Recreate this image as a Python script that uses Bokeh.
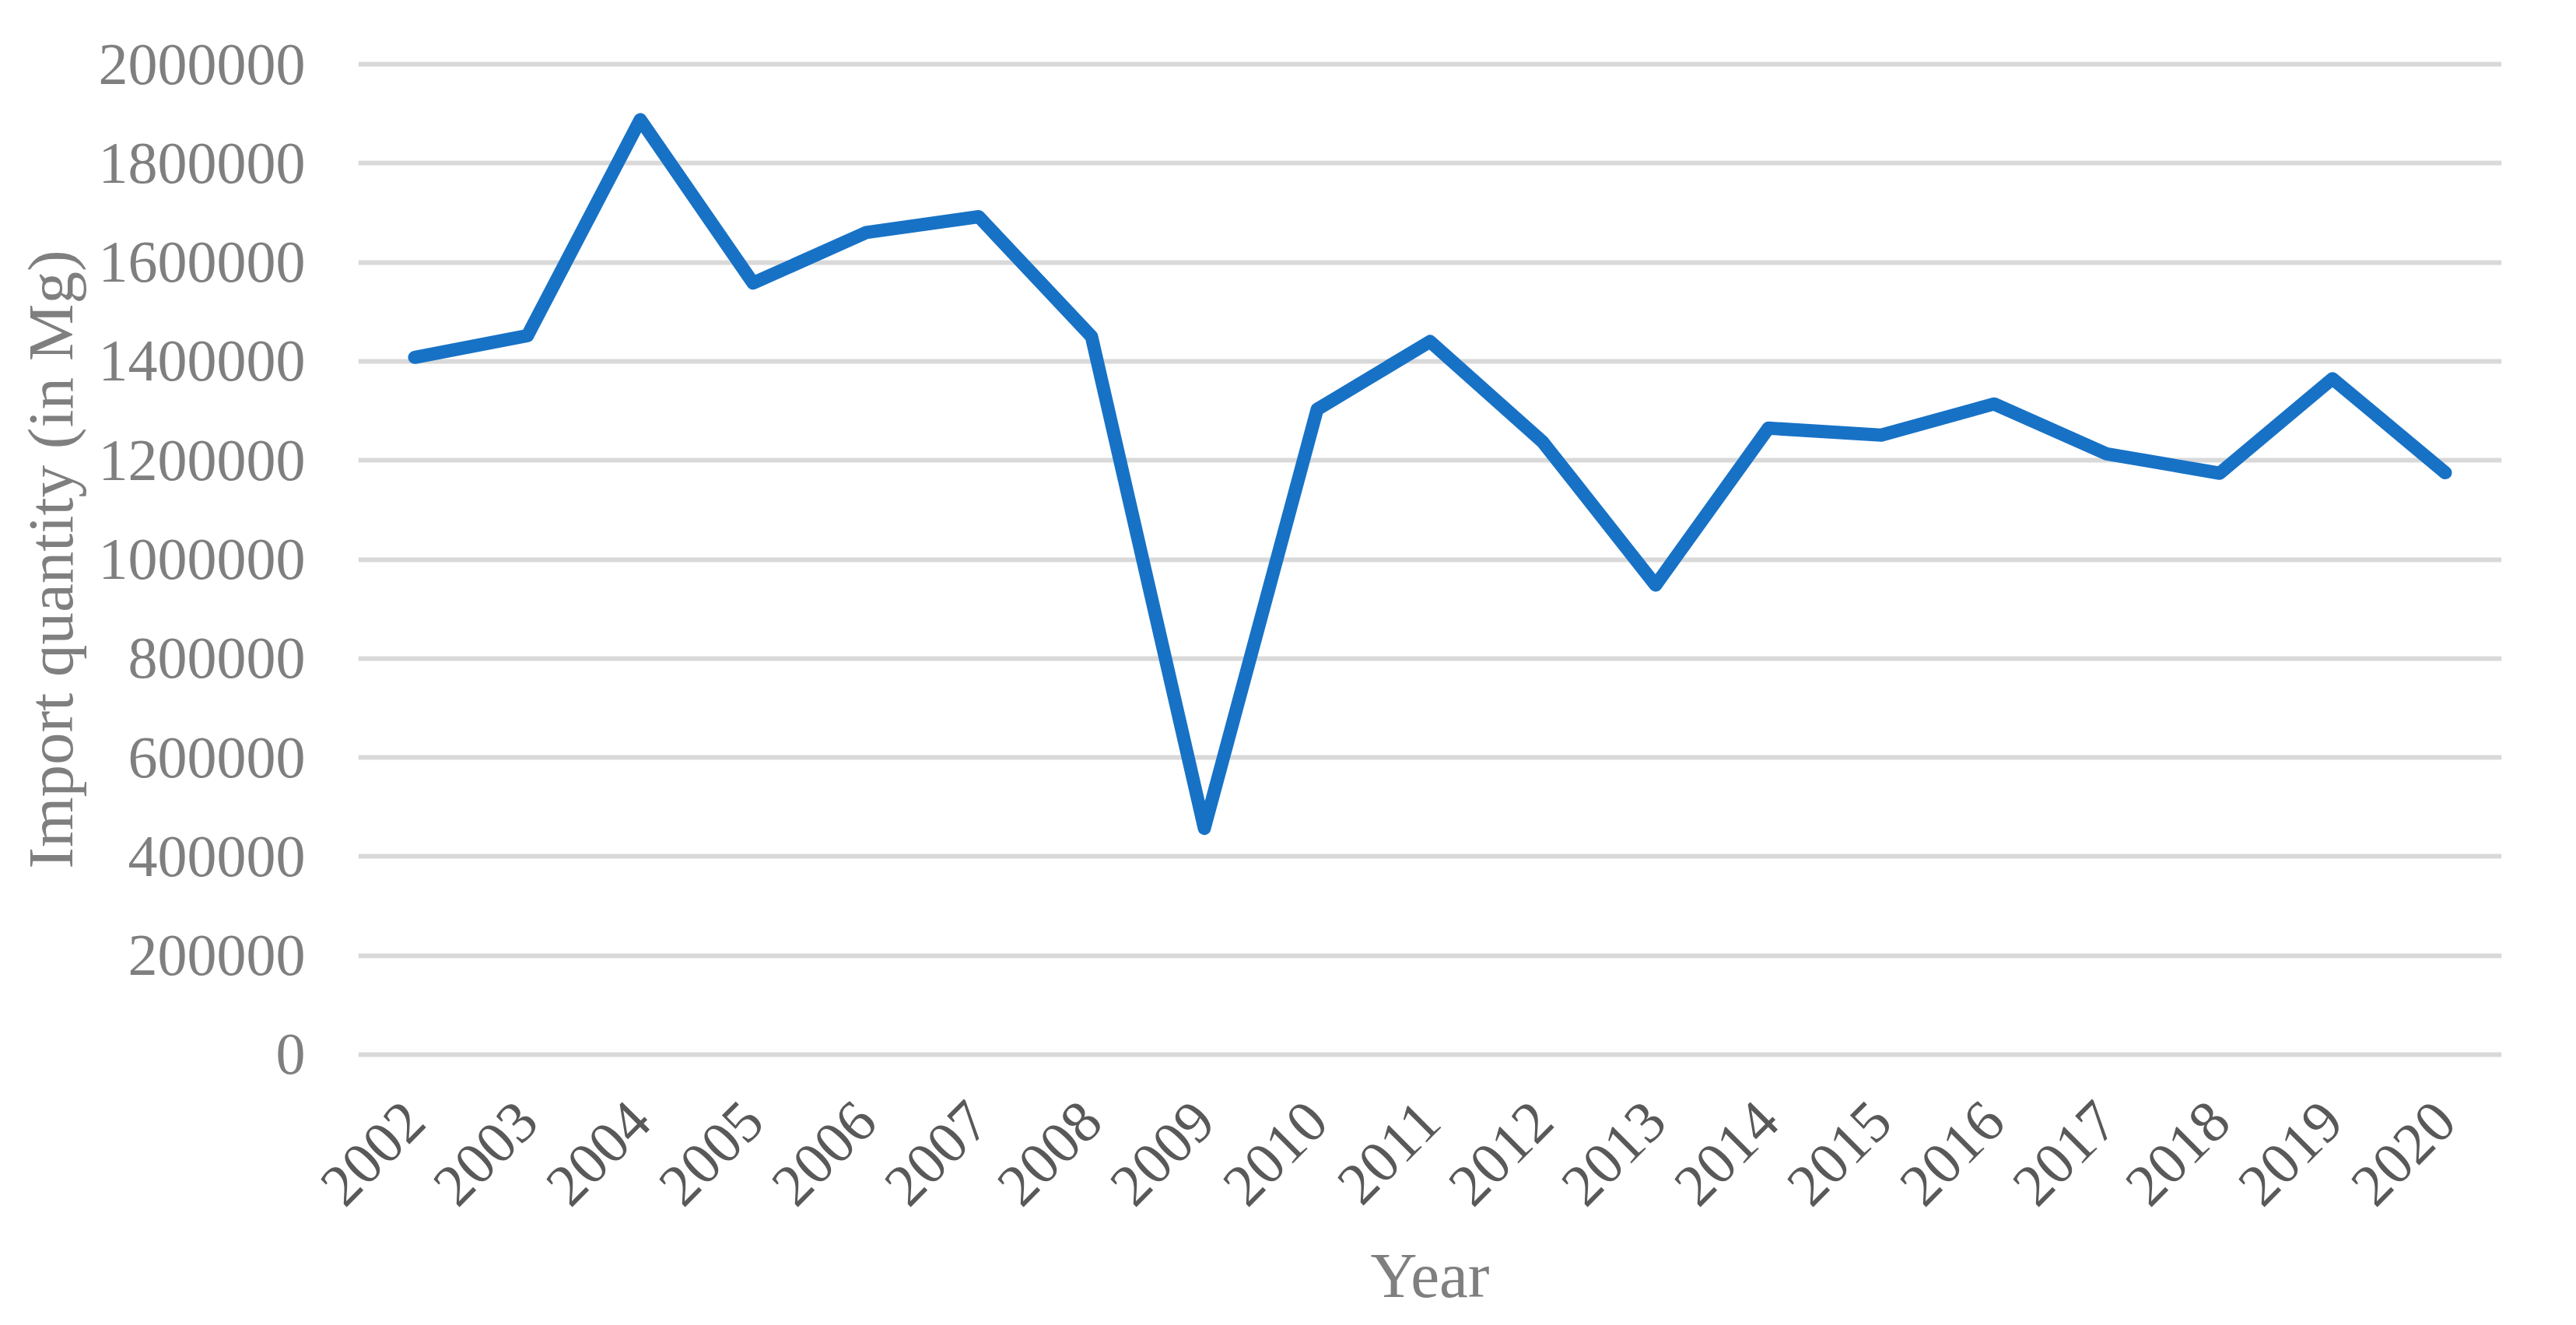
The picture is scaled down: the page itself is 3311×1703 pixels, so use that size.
import math
from bokeh.plotting import figure
from bokeh.models import FactorRange, Range1d, FixedTicker, NumeralTickFormatter, ColumnDataSource
from bokeh.embed import file_html
from bokeh.resources import INLINE

years = ["2002", "2003", "2004", "2005", "2006", "2007", "2008", "2009", "2010", "2011",
         "2012", "2013", "2014", "2015", "2016", "2017", "2018", "2019", "2020"]
import_qty = [1408000, 1452000, 1888000, 1558000, 1660000, 1692000, 1450000, 457000, 1303000, 1440000,
              1237000, 948000, 1265000, 1251000, 1314000, 1213000, 1174000, 1365000, 1175000]
y_ticks = [0, 200000, 400000, 600000, 800000, 1000000, 1200000, 1400000, 1600000, 1800000, 2000000]

FONT = "Liberation Serif"

src = ColumnDataSource(data=dict(year=years, qty=import_qty))

p = figure(
    x_range=FactorRange(*years, range_padding=0),
    y_range=Range1d(-7856, 2007856),
    frame_width=2755, frame_height=1283,
    min_border_left=460, min_border_right=88, min_border_top=77, min_border_bottom=335,
    output_backend="svg", toolbar_location=None,
    background_fill_color="white", border_fill_color="white",
)
p.outline_line_color = None

p.line(x="year", y="qty", source=src, line_width=17, line_color="#1772C6",
       line_join="round", line_cap="round")

# grids
p.xgrid.grid_line_color = None
p.ygrid.grid_line_color = "#D9D9D9"
p.ygrid.grid_line_width = 6

# y axis
ya = p.yaxis[0]
ya.ticker = FixedTicker(ticks=y_ticks)
ya.formatter = NumeralTickFormatter(format="0")
ya.axis_line_color = None
ya.major_tick_line_color = None
ya.minor_tick_line_color = None
ya.major_label_standoff = 62
ya.major_label_text_font = FONT
ya.major_label_text_font_size = "76px"
ya.major_label_text_color = "#7F7F7F"
ya.axis_label = "Import quantity (in Mg)"
ya.axis_label_text_font = FONT
ya.axis_label_text_font_size = "83px"
ya.axis_label_text_font_style = "normal"
ya.axis_label_text_color = "#7F7F7F"
ya.axis_label_standoff = 13

# x axis
xa = p.xaxis[0]
xa.axis_line_color = None
xa.major_tick_line_color = None
xa.minor_tick_line_color = None
xa.major_label_orientation = math.pi / 4
xa.major_label_standoff = 62
xa.major_label_text_font = FONT
xa.major_label_text_font_size = "76px"
xa.major_label_text_color = "#595959"
xa.axis_label = "Year"
xa.axis_label_text_font = FONT
xa.axis_label_text_font_size = "83px"
xa.axis_label_text_font_style = "normal"
xa.axis_label_text_color = "#7F7F7F"
xa.axis_label_standoff = 19

open("out.html", "w").write(file_html(p, INLINE))
